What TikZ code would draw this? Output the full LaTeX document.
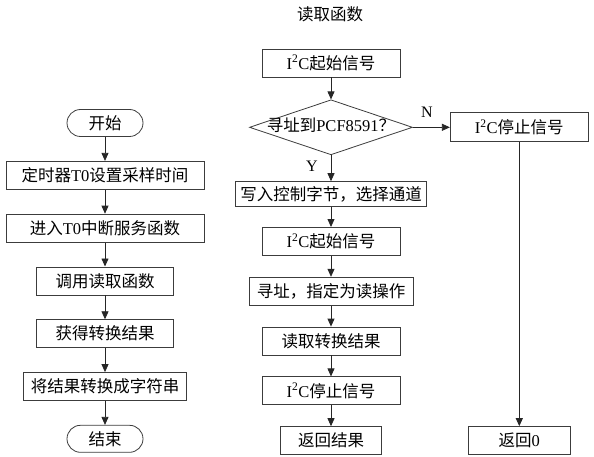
\documentclass[tikz,border=0pt]{standalone}
\usepackage{fontspec}
\setmainfont{Noto Sans CJK SC}
\newfontfamily\latinfont{Liberation Serif}
\newcommand{\en}[1]{{\latinfont #1}}
\newcommand{\iic}{\en{I\textsuperscript{2}C}}
\usetikzlibrary{positioning,shapes.geometric,arrows.meta}
\definecolor{boxStroke}{HTML}{3c3c3c}
\definecolor{lineCol}{HTML}{262626}

\begin{document}
\begin{tikzpicture}[
  x=1pt, y=1pt,
  font=\fontsize{16.5}{19}\selectfont,
  node distance=24pt,
  proc/.style={draw=boxStroke, line width=0.8pt, minimum height=28pt, inner sep=2pt, align=center},
  term/.style={proc, minimum width=76pt, minimum height=27pt, rounded corners=13.5pt},
  decide/.style={draw=boxStroke, line width=0.8pt, diamond, aspect=3, inner sep=0pt, text height=8pt, text depth=0pt, minimum width=163pt, minimum height=55pt},
  flow/.style={-{Triangle[length=8pt,width=7pt]}, draw=lineCol, line width=0.8pt},
  yn/.style={font=\latinfont\fontsize{16}{19}\selectfont, inner sep=1pt}
]
\useasboundingbox (0,0) rectangle (594,-457);

% ============================================================
% MAIN PROGRAM (left column)
% ============================================================
\node[term] (start) at (105,-123) {开始};
\node[proc, minimum width=198pt, below=of start] (timer) {定时器\en{T0}设置采样时间};
\node[proc, minimum width=198pt, below=of timer] (isr) {进入\en{T0}中断服务函数};
\node[proc, minimum width=137pt, below=of isr] (call) {调用读取函数};
\node[proc, minimum width=137pt, below=of call] (result) {获得转换结果};
\node[proc, minimum width=163pt, below=of result] (tostr) {将结果转换成字符串};
\node[term, below=of tostr] (stop) {结束};

% ============================================================
% READ FUNCTION (right columns)
% ============================================================
\node (title) at (330,-14) {读取函数};
\node[proc, minimum width=138pt] (iicA) at (331,-63) {\iic 起始信号};
\node[decide, below=22pt of iicA] (addr) {寻址到\en{PCF8591}？};
\node[proc, minimum width=191pt, minimum height=25pt, below=26pt of addr] (ctrl) {写入控制字节，选择通道};
\node[proc, minimum width=138pt, below=20pt of ctrl] (iicB) {\iic 起始信号};
\node[proc, minimum width=164pt, below=21pt of iicB] (rdaddr) {寻址，指定为读操作};
\node[proc, minimum width=138pt, below=21pt of rdaddr] (rdval) {读取转换结果};
\node[proc, minimum width=138pt, below=21pt of rdval] (iicC) {\iic 停止信号};
\node[proc, minimum width=101pt, below=21pt of iicC] (retval) {返回结果};

% failure branch
\node[proc, minimum width=138pt, minimum height=29pt, right=37pt of addr] (iicN) {\iic 停止信号};
\node[proc, minimum width=102pt] (ret0) at (iicN |- retval) {返回\en{0}};

% ============================================================
% ARROWS: main program
% ============================================================
\draw[flow] (start) -- (timer);
\draw[flow] (timer) -- (isr);
\draw[flow] (isr) -- (call);
\draw[flow] (call) -- (result);
\draw[flow] (result) -- (tostr);
\draw[flow] (tostr) -- (stop);

% ============================================================
% ARROWS: read function
% ============================================================
\draw[flow] (iicA) -- (addr);
\draw[flow] (addr) -- node[yn, pos=0.42, left=12pt]{Y} (ctrl);
\draw[flow] (addr) -- node[yn, pos=0.38, above=8pt]{N} (iicN);
\draw[flow] (ctrl) -- (iicB);
\draw[flow] (iicB) -- (rdaddr);
\draw[flow] (rdaddr) -- (rdval);
\draw[flow] (rdval) -- (iicC);
\draw[flow] (iicC) -- (retval);
\draw[flow] (iicN) -- (ret0);

\end{tikzpicture}
\end{document}
